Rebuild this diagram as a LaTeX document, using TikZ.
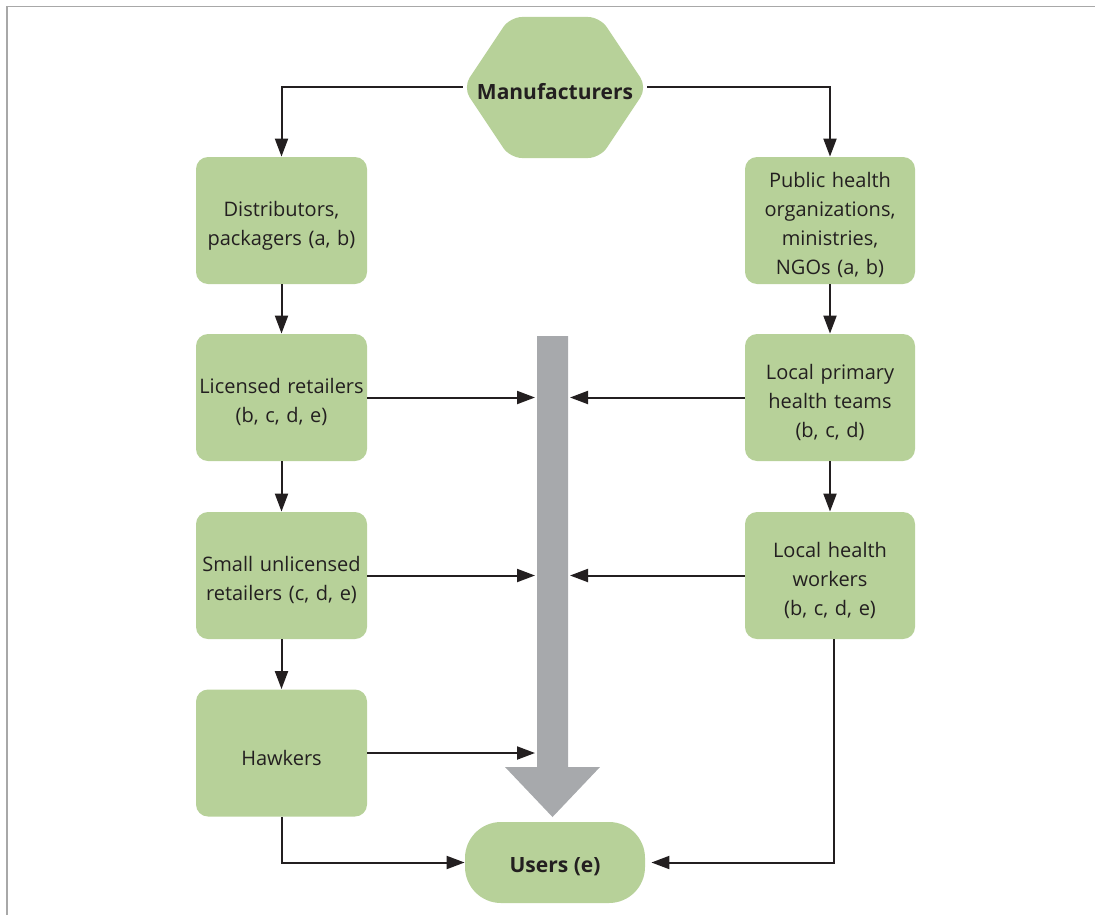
\documentclass[tikz,border=0pt]{standalone}
\usepackage{fontspec}
\setmainfont{Open Sans}
\usetikzlibrary{arrows.meta}
\definecolor{leaf}{HTML}{B7D199}
\definecolor{ink}{HTML}{231F20}
\definecolor{pipe}{HTML}{A7A9AC}
\definecolor{frame}{HTML}{A8A8A8}
\tikzset{
    box/.style = {fill=leaf, rounded corners=6pt, align=center, text=ink,
        text width=83pt, minimum width=85.5pt, minimum height=63.5pt,
        inner xsep=1pt, inner ysep=2pt,
        font=\fontsize{10}{14.5}\selectfont,
        execute at begin node={\rule{0pt}{12.5pt}}},
    flow/.style = {draw=ink, line width=1pt, -{Triangle[length=9pt,width=6.5pt]}},
    bold/.style = {text=ink, font=\fontsize{10.5}{13}\selectfont\bfseries,
        execute at begin node={\rule{0pt}{12pt}}}
}

\begin{document}
\begin{tikzpicture}[x=0.5pt, y=-0.5pt]
    \useasboundingbox (0,0) rectangle (1095,915);
    \draw [frame, line width=0.75pt] (7,915) -- (7,6.5) -- (1095,6.5);

    % manufacturers hexagon
    \fill [leaf, rounded corners=6pt] (463,87.5) -- (510,17) -- (600,17)
        -- (647,87.5) -- (600,158) -- (510,158) -- cycle;
    \node[bold, inner sep=0pt, minimum width=92pt] (mfr) at (555,87.5) {Manufacturers};

    % left column
    \node[box] (dist)  at (281.5,220.5) {Distributors,\\packagers (a, b)};
    \node[box] (lic)   at (281.5,397.5) {Licensed retailers\\(b, c, d, e)};
    \node[box] (small) at (281.5,575.5) {Small unlicensed\\retailers (c, d, e)};
    \node[box] (hawk)  at (281.5,753)   {Hawkers};

    % right column
    \node[box, minimum width=85pt] (pho) at (830,220.5) {Public health\\organizations,\\ministries,\\NGOs (a, b)};
    \node[box, minimum width=85pt] (lph) at (830,397.5) {Local primary\\health teams\\(b, c, d)};
    \node[box, minimum width=85pt] (lhw) at (830,575.5) {Local health\\workers\\(b, c, d, e)};

    \node[bold, fill=leaf, rounded corners=18pt, minimum width=90pt,
        minimum height=40.5pt] (users) at (555,862.5) {Users (e)};

    % the big grey flow
    \fill [pipe] (537,336) -- (568,336) -- (568,767) -- (600,767)
        -- (552.5,817) -- (505,767) -- (537,767) -- cycle;
    \coordinate (inL) at (535,0);
    \coordinate (inR) at (570,0);

    \draw [flow] (mfr.west) -| (dist.north);
    \draw [flow] (mfr.east) -| (pho.north);

    \draw [flow] (dist) -- (lic);
    \draw [flow] (lic) -- (small);
    \draw [flow] (small) -- (hawk);
    \draw [flow] (pho) -- (lph);
    \draw [flow] (lph) -- (lhw);

    \draw [flow] (lic.east) -- (lic.east -| inL);
    \draw [flow] (small.east) -- (small.east -| inL);
    \draw [flow] (hawk.east) -- (hawk.east -| inL);
    \draw [flow] (lph.west) -- (lph.west -| inR);
    \draw [flow] (lhw.west) -- (lhw.west -| inR);

    \draw [flow] (hawk.south) |- (users.west);
    \draw [flow, shorten >=3pt] ([xshift=2pt]lhw.south) |- (users.east);

\end{tikzpicture}
\end{document}
